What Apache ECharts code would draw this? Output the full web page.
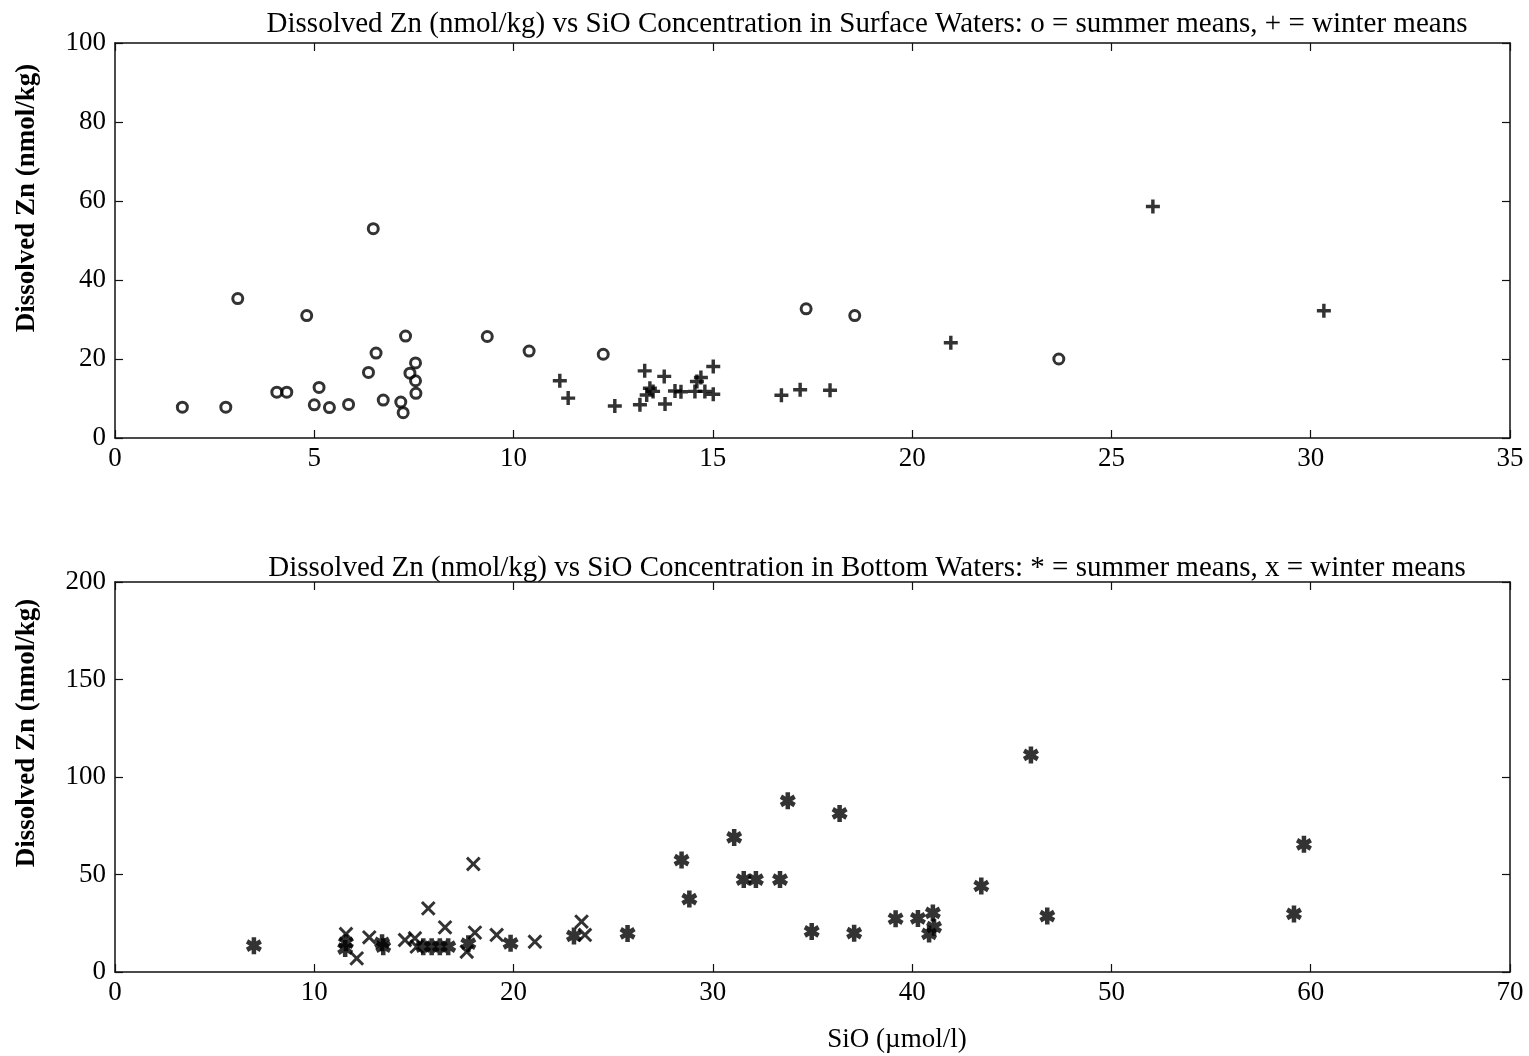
<!DOCTYPE html>
<html>
<head>
<meta charset="utf-8">
<script src="https://cdn.jsdelivr.net/npm/echarts@6/dist/echarts.min.js"></script>
<style>
  html, body { margin: 0; padding: 0; background: #fff; }
  #chart { width: 1529px; height: 1056px; }
</style>
</head>
<body>
<div id="chart"></div>
<script>
// Surface waters: SiO (µmol/l) vs dissolved Zn (nmol/kg)
const surfaceSummerSi = [1.69, 2.78, 3.08, 4.06, 4.31, 4.81, 5.00, 5.12, 5.38, 5.86, 6.36, 6.48, 6.55, 6.73, 7.17, 7.23, 7.29, 7.40, 7.54, 7.54, 7.55, 9.34, 10.39, 12.25, 17.34, 18.56, 23.68];
const surfaceSummerZn = [7.8, 7.8, 35.3, 11.6, 11.6, 31.0, 8.4, 12.8, 7.7, 8.5, 16.6, 53.0, 21.5, 9.6, 9.1, 6.4, 25.8, 16.4, 19.0, 14.5, 11.3, 25.7, 22.0, 21.2, 32.7, 31.0, 20.0];

const surfaceWinterSi = [11.16, 11.37, 12.54, 13.29, 13.78, 15.01, 14.70, 14.60, 13.42, 13.34, 13.50, 13.17, 13.80, 14.05, 14.20, 14.55, 14.80, 15.01, 16.72, 17.19, 17.94, 20.97, 26.04, 30.33];
const surfaceWinterZn = [14.5, 10.1, 8.1, 17.0, 15.6, 18.1, 15.3, 14.3, 12.6, 10.9, 11.8, 8.4, 8.6, 11.9, 11.7, 11.8, 11.8, 11.1, 10.8, 12.2, 12.1, 24.1, 58.6, 32.2];

// Bottom waters
const bottomSummerSi = [6.97, 11.59, 11.55, 13.46, 13.40, 15.47, 15.89, 16.30, 16.72, 17.73, 19.85, 23.03, 25.72, 28.43, 28.82, 31.07, 31.55, 32.16, 33.37, 33.76, 34.96, 36.36, 37.09, 39.17, 40.29, 41.04, 41.10, 40.85, 43.47, 45.96, 46.78, 59.16, 59.66];
const bottomSummerZn = [13.5, 15.0, 12.0, 13.0, 15.0, 13.0, 13.0, 13.0, 13.0, 14.5, 14.7, 18.5, 19.8, 57.4, 37.4, 69.0, 47.4, 47.4, 47.4, 87.8, 20.8, 81.3, 19.9, 27.3, 27.5, 30.3, 23.0, 19.5, 44.1, 111.3, 28.7, 29.8, 65.5];

const bottomWinterSi = [11.59, 12.13, 12.76, 14.55, 15.05, 15.14, 15.72, 16.56, 17.65, 18.06, 17.98, 19.15, 21.07, 23.41, 23.58];
const bottomWinterZn = [19.5, 7.0, 17.8, 16.4, 17.3, 13.0, 32.6, 22.9, 10.4, 20.2, 55.4, 19.0, 15.5, 25.8, 19.0];

// Axis ranges and tick steps
const topXTicks = { min: 0, max: 35, step: 5 };
const topYTicks = { min: 0, max: 100, step: 20 };
const botXTicks = { min: 0, max: 70, step: 10 };
const botYTicks = { min: 0, max: 200, step: 50 };

const titleTop = 'Dissolved Zn (nmol/kg) vs SiO Concentration in Surface Waters: o = summer means, + = winter means';
const titleBottom = 'Dissolved Zn (nmol/kg) vs SiO Concentration in Bottom Waters: * = summer means, x = winter means';
const yName = 'Dissolved Zn (nmol/kg)';
const xName = 'SiO (\u00b5mol/l)';

const FONT = '"Liberation Serif", "DejaVu Serif", serif';
const zip = (a, b) => a.map((v, i) => [v, b[i]]);

// Marker shapes
const PLUS = 'path://M-1.6,-6.5H1.6V-1.6H6.5V1.6H1.6V6.5H-1.6V1.6H-6.5V-1.6H-1.6Z';
const CROSS = 'path://M-1.15,-7H1.15V-1.15H7V1.15H1.15V7H-1.15V1.15H-7V-1.15H-1.15Z';
const STAR = 'path://M-2,-7L2,-7L2,7L-2,7Z' +
  'M5.062,-5.232L7.062,-1.768L-5.062,5.232L-7.062,1.768Z' +
  'M-7.062,-1.768L-5.062,-5.232L7.062,1.768L5.062,5.232Z';

const axisLine = { show: true, onZero: false, lineStyle: { color: '#111', width: 1.5 } };
const tickIn = { show: true, inside: true, length: 8, lineStyle: { color: '#111', width: 1.2 } };
const labelStyle = { color: '#000', fontFamily: FONT, fontSize: 27 };

function xAxes(grid, t) {
  return [
    { type: 'value', gridIndex: grid, position: 'bottom', min: t.min, max: t.max, interval: t.step,
      axisLine, axisTick: tickIn, splitLine: { show: false },
      axisLabel: Object.assign({ margin: 7 }, labelStyle) },
    { type: 'value', gridIndex: grid, position: 'top', min: t.min, max: t.max, interval: t.step,
      axisLine, axisTick: tickIn, splitLine: { show: false }, axisLabel: { show: false } }
  ];
}
function yAxes(grid, t) {
  return [
    { type: 'value', gridIndex: grid, position: 'left', min: t.min, max: t.max, interval: t.step,
      axisLine, axisTick: tickIn, splitLine: { show: false },
      axisLabel: Object.assign({ margin: 9 }, labelStyle) },
    { type: 'value', gridIndex: grid, position: 'right', min: t.min, max: t.max, interval: t.step,
      axisLine, axisTick: tickIn, splitLine: { show: false }, axisLabel: { show: false } }
  ];
}

const titleStyle = { fontFamily: FONT, fontWeight: 'normal', fontSize: 29, color: '#000' };

const chart = echarts.init(document.getElementById('chart'), null, { renderer: 'canvas' });
chart.setOption({
  backgroundColor: '#fff',
  animation: false,
  title: [
    { text: titleTop, left: 862, top: 5, textAlign: 'center', textStyle: titleStyle },
    { text: titleBottom, left: 862, top: 549, textAlign: 'center', textStyle: titleStyle }
  ],
  grid: [
    { left: 115, top: 43, width: 1395, height: 395 },
    { left: 115, top: 582, width: 1395, height: 390 }
  ],
  xAxis: [...xAxes(0, topXTicks), ...xAxes(1, botXTicks)],
  yAxis: [...yAxes(0, topYTicks), ...yAxes(1, botYTicks)],
  graphic: [
    { type: 'text', x: 27, y: 198, rotation: Math.PI / 2,
      style: { text: yName, fontFamily: FONT, fontWeight: 'bold', fontSize: 27, fill: '#000',
               textAlign: 'center', textVerticalAlign: 'middle' } },
    { type: 'text', x: 27, y: 733, rotation: Math.PI / 2,
      style: { text: yName, fontFamily: FONT, fontWeight: 'bold', fontSize: 27, fill: '#000',
               textAlign: 'center', textVerticalAlign: 'middle' } },
    { type: 'text', x: 897, y: 1040,
      style: { text: xName, fontFamily: FONT, fontSize: 27, fill: '#000',
               textAlign: 'center', textVerticalAlign: 'middle' } }
  ],
  series: [
    { name: 'surface summer', type: 'scatter', xAxisIndex: 0, yAxisIndex: 0,
      data: zip(surfaceSummerSi, surfaceSummerZn), symbol: 'circle', symbolSize: 10,
      itemStyle: { color: 'rgba(255,255,255,0)', borderColor: '#000', borderWidth: 3 } },
    { name: 'surface winter', type: 'scatter', xAxisIndex: 0, yAxisIndex: 0,
      data: zip(surfaceWinterSi, surfaceWinterZn), symbol: PLUS, symbolSize: 14,
      itemStyle: { color: '#000' } },
    { name: 'bottom summer', type: 'scatter', xAxisIndex: 2, yAxisIndex: 2,
      data: zip(bottomSummerSi, bottomSummerZn), symbol: STAR, symbolSize: [16, 17],
      itemStyle: { color: '#000' } },
    { name: 'bottom winter', type: 'scatter', xAxisIndex: 2, yAxisIndex: 2,
      data: zip(bottomWinterSi, bottomWinterZn), symbol: CROSS, symbolSize: 18, symbolRotate: 45,
      itemStyle: { color: '#000' } }
  ]
});
</script>
</body>
</html>
